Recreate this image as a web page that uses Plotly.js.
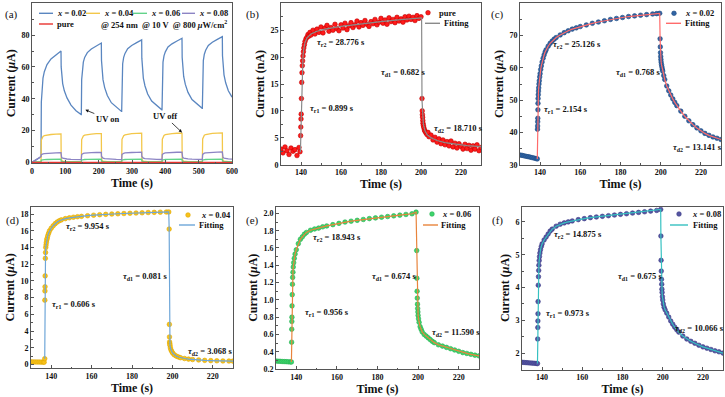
<!DOCTYPE html>
<html><head><meta charset="utf-8">
<script src="https://cdn.plot.ly/plotly-3.0.1.min.js"></script>
<style>html,body{margin:0;padding:0;background:#fff}#c{width:725px;height:397px}</style>
</head><body><div id="c"></div>
<script>
// ---------- (a) cycling I-t curves ----------
const tA = [0,10,20,26.5,
 27,28,30,33,37,45,57,72,87,87.5,89,92,97,105,117,132,147.5,
 148,149,151,154,158,166,178,193,208,208.5,210,213,218,226,238,253,268.5,
 269,270,272,275,279,287,299,314,329,329.5,331,334,339,347,359,374,389.5,
 390,391,393,396,400,408,420,435,450,450.5,452,455,460,468,480,495,510.5,
 511,512,514,517,521,529,541,556,571,571.5,573,576,581,589,600];
const a002 = [0,1.3,2.6,3.4,
 3.5,38,47,53,57,61.5,65,67.8,70,60,54,49.5,45,40.5,36,32.5,30,
 30,52,59,63,66,69,71.3,73.3,75,64,57,52,47,42,37.5,34.5,32,
 32,55,62,66,68.5,71.5,73.5,75.3,77,65.5,58.5,53,48,43,38.5,35.5,33,
 33,56,63,67,69.5,72.5,74.5,76.3,78,66,59,54,49,44,39.5,36.5,34,
 34,57,64,68,70.5,73.5,75.5,77.3,79,67,60,55,50,45,41];
const a004 = [0.3,0.3,0.3,0.3,
 0.3,14,15.5,16.3,16.8,17.2,17.5,17.7,17.9,3,1.2,0.8,0.6,0.5,0.45,0.4,0.4,
 0.4,14.3,15.8,16.6,17.1,17.5,17.8,18.0,18.1,3,1.2,0.8,0.6,0.5,0.45,0.4,0.4,
 0.4,14.5,16.0,16.8,17.3,17.7,18.0,18.2,18.3,3,1.2,0.8,0.6,0.5,0.45,0.4,0.4,
 0.4,14.6,16.1,16.9,17.4,17.8,18.1,18.3,18.4,3,1.2,0.8,0.6,0.5,0.45,0.4,0.4,
 0.4,14.7,16.2,17.0,17.5,17.9,18.2,18.4,18.5,3,1.2,0.8,0.6,0.5,0.45];
const a006 = [0.28,0.28,0.28,0.28,
 0.28,1.45,1.6,1.68,1.74,1.8,1.86,1.92,1.97,0.75,0.58,0.5,0.44,0.4,0.36,0.33,0.31,
 0.31,1.5,1.65,1.72,1.78,1.84,1.9,1.95,2.0,0.75,0.58,0.5,0.44,0.4,0.36,0.33,0.31,
 0.31,1.5,1.65,1.72,1.78,1.84,1.9,1.95,2.01,0.75,0.58,0.5,0.44,0.4,0.36,0.33,0.31,
 0.31,1.5,1.65,1.72,1.78,1.84,1.9,1.95,2.02,0.75,0.58,0.5,0.44,0.4,0.36,0.33,0.31,
 0.31,1.5,1.65,1.72,1.78,1.84,1.9,1.95,2.03,0.75,0.58,0.5,0.44,0.4,0.37];
const a008 = [0,1.4,2.8,3.6,
 3.7,4.8,5.1,5.3,5.5,5.7,5.85,6.0,6.1,3.6,3.0,2.6,2.3,2.1,1.9,1.8,1.7,
 1.7,4.9,5.3,5.6,5.8,6.0,6.1,6.2,6.3,3.7,3.1,2.7,2.4,2.2,2.0,1.85,1.75,
 1.75,5.0,5.4,5.7,5.9,6.1,6.2,6.3,6.4,3.7,3.1,2.7,2.4,2.2,2.0,1.9,1.8,
 1.8,5.0,5.4,5.7,5.9,6.1,6.25,6.35,6.45,3.7,3.1,2.7,2.4,2.2,2.0,1.9,1.8,
 1.8,5.0,5.45,5.75,5.95,6.15,6.3,6.4,6.5,3.7,3.1,2.7,2.4,2.2,2.05];
const aPure = [0.003,0.003,0.003,0.003,
 0.003,0.02,0.024,0.025,0.025,0.026,0.026,0.027,0.027,0.008,0.006,0.005,0.004,0.004,0.0035,0.003,0.003,
 0.003,0.02,0.024,0.025,0.025,0.026,0.026,0.027,0.027,0.008,0.006,0.005,0.004,0.004,0.0035,0.003,0.003,
 0.003,0.02,0.024,0.025,0.025,0.026,0.026,0.027,0.027,0.008,0.006,0.005,0.004,0.004,0.0035,0.003,0.003,
 0.003,0.02,0.024,0.025,0.025,0.026,0.026,0.027,0.027,0.008,0.006,0.005,0.004,0.004,0.0035,0.003,0.003,
 0.003,0.02,0.024,0.025,0.025,0.026,0.026,0.027,0.027,0.008,0.006,0.005,0.004,0.004,0.0035];

// ---------- (b) pure, nA ----------
const tB = [130,131,132,133,134,135,136,137,138,139,139.5,
 139.8,139.9,140,140.1,140.2,140.35,140.5,140.65,140.8,141,141.2,141.4,141.7,142,142.5,143,143.5,144,144.5,
 145,146,147,148,149,150,151,152,153,154,155,156,157,158,159,160,161,162,163,164,165,166,167,168,169,170,
 171,172,173,174,175,176,177,178,179,180,181,182,183,184,185,186,187,188,189,190,191,192,193,194,195,196,197,198,199,200,
 200.5,200.6,200.7,200.8,200.9,201,201.2,201.4,201.7,202,202.5,203,203.5,204,205,206,207,208,209,210,
 211,212,213,214,215,216,217,218,219,220,221,222,223,224,225,226,227,228,229,230];
const iB = [2.9,2.2,3.3,2.6,1.9,3.1,2.5,2.8,1.7,3.2,2.4,
 5.4,7.0,8.5,9.4,12.3,15.3,17.1,18.4,19.3,20.2,21.0,21.7,22.3,22.9,23.4,23.7,24.2,23.9,24.6,
 24.1,25.0,24.3,25.2,24.6,25.6,24.5,25.4,25.9,24.8,25.5,25.0,26.1,25.3,24.9,26.0,25.4,26.3,25.1,25.8,26.4,25.5,26.0,26.7,25.6,26.4,
 25.9,26.8,26.1,25.7,26.6,26.2,27.0,26.0,26.5,27.2,26.3,26.9,26.1,27.3,26.6,27.0,26.4,27.4,26.7,27.1,26.5,27.5,26.9,27.6,27.0,27.4,26.8,27.7,27.2,27.5,
 12.3,10.0,9.3,8.8,8.2,7.7,7.3,6.9,6.5,6.2,5.9,5.6,6.0,5.2,5.5,4.6,5.1,4.2,4.8,3.9,
 4.6,3.7,4.3,3.5,4.4,3.3,4.0,3.1,3.9,3.4,2.9,3.8,3.0,3.6,2.7,3.5,2.9,3.7,2.6,3.2];
const tBfit = [139.7,140,140.3,140.6,141,141.5,142,143,145,148,152,160,170,180,190,200.3,200.5,200.8,201.2,202,203,205,208,212,217,223,230];
const iBfit = [2.3,8.0,13.5,17.5,20.3,21.8,22.7,23.6,24.3,24.8,25.2,25.7,26.2,26.6,26.95,27.3,12,9,7.5,6.3,5.6,5.0,4.5,4.1,3.8,3.55,3.35];

// ---------- (c) x = 0.02 ----------
const tC = [130,131,132,133,134,135,136,137,138,138.6,
 138.7,138.75,138.8,138.85,138.9,138.95,139,139.1,139.2,139.3,139.45,139.6,139.8,140,140.3,140.6,141,141.5,142,142.5,143,
 144,145,146,147,148,150,152,154,156,158,160,163,166,169,172,175,178,181,184,187,190,193,196,198,199.5,
 199.7,199.8,199.9,200,200.1,200.2,200.4,200.6,200.8,201,201.5,202,203,204,205,206,207,208,210,212,214,216,218,220,222,224,226,228,230];
const iC = [33.0,32.9,32.75,32.6,32.5,32.35,32.2,32.05,31.9,31.8,
 41.0,42.0,43.3,44.4,47.0,49.0,50.5,51.7,52.8,53.8,55.0,56.0,57.2,58.2,59.5,60.6,61.8,63.0,64.0,64.9,65.6,
 66.7,67.6,68.3,68.9,69.4,70.2,70.9,71.5,72.0,72.4,72.8,73.3,73.8,74.2,74.6,75.0,75.3,75.6,75.9,76.1,76.3,76.5,76.7,76.8,76.9,
 69.0,66.5,64.7,63.5,62.6,61.8,61.0,60.3,59.6,59.0,57.6,56.4,54.4,52.9,51.6,50.4,49.3,48.3,46.6,45.0,43.6,42.4,41.4,40.5,39.7,39.1,38.6,38.2,37.8];

// ---------- (d) x = 0.04 ----------
const tD = [130,131,132,133,134,135,136,136.5,136.8,
 136.85,136.9,136.95,137,137.1,137.2,137.3,137.45,137.6,137.8,138,138.3,138.7,139.2,140,141,142,143,144,145,147,149,151,153,155,158,161,164,167,170,173,176,179,182,185,188,191,194,197,198.2,
 198.4,198.5,198.55,198.6,198.7,198.8,199,199.3,199.7,200.2,201,202,203,204,206,208,210,213,216,219,222,225,228,230];
const iD = [0.32,0.31,0.31,0.3,0.3,0.29,0.29,0.28,0.7,
 7.7,8.8,9.3,10.6,12.7,13.4,14.0,14.3,14.6,14.9,15.1,15.4,15.7,16.0,16.3,16.6,16.85,17.05,17.2,17.3,17.45,17.55,17.62,17.68,17.72,17.8,17.86,17.92,17.96,18.0,18.03,18.06,18.09,18.12,18.15,18.18,18.2,18.22,18.24,18.25,
 16.2,4.8,3.3,2.7,2.5,2.3,2.0,1.75,1.55,1.35,1.15,1.0,0.9,0.82,0.72,0.65,0.6,0.55,0.5,0.47,0.45,0.43,0.42,0.41];

// ---------- (e) x = 0.06 ----------
const tE = [130,131,132,133,134,135,136,137,137.6,
 137.7,137.75,137.8,137.85,137.9,138,138.1,138.2,138.35,138.5,138.7,139,139.4,140,141,142,143,144,145,147,149,151,153,155,158,161,164,167,170,173,176,179,182,185,188,191,194,197,199,
 199.3,199.4,199.5,199.6,199.7,199.8,199.9,200,200.2,200.5,201,201.5,202,203,204,205,206,207,208,210,212,214,216,218,220,222,224,226,228,230];
const iE = [0.292,0.29,0.289,0.287,0.286,0.285,0.283,0.282,0.281,
 0.51,0.66,0.75,0.8,0.93,1.06,1.18,1.26,1.32,1.38,1.43,1.48,1.53,1.58,1.65,1.70,1.73,1.76,1.78,1.805,1.82,1.83,1.845,1.855,1.87,1.885,1.9,1.91,1.92,1.93,1.94,1.948,1.956,1.964,1.972,1.98,1.988,1.996,2.015,
 1.57,1.25,1.10,1.02,0.95,0.9,0.86,0.82,0.78,0.74,0.69,0.66,0.63,0.6,0.58,0.56,0.54,0.52,0.505,0.48,0.465,0.45,0.435,0.42,0.405,0.39,0.38,0.37,0.36,0.352];

// ---------- (f) x = 0.08 ----------
const tF = [130,131,132,133,134,135,136,137,137.7,
 137.8,137.85,137.9,137.95,138,138.1,138.2,138.3,138.4,138.55,138.7,138.9,139.2,139.6,140,141,142,143,144,145,147,149,151,153,155,158,161,164,167,170,173,176,179,182,185,188,191,194,197,199,
 199.1,199.2,199.3,199.4,199.5,199.6,199.7,199.85,200,200.3,200.7,201.2,202,203,204,205,206,207,208,210,212,214,216,218,220,222,224,226,228,230];
const iF = [1.72,1.715,1.71,1.705,1.70,1.695,1.69,1.685,1.68,
 2.43,2.78,2.98,3.2,3.57,4.07,4.33,4.52,4.68,4.82,4.94,5.05,5.15,5.25,5.33,5.45,5.54,5.63,5.72,5.78,5.87,5.93,5.97,6.0,6.03,6.07,6.1,6.13,6.15,6.17,6.19,6.21,6.23,6.25,6.27,6.29,6.31,6.33,6.35,6.38,
 5.57,4.83,4.5,4.25,4.1,3.95,3.85,3.72,3.62,3.5,3.4,3.32,3.22,3.1,2.98,2.88,2.79,2.71,2.64,2.52,2.43,2.36,2.3,2.24,2.19,2.15,2.11,2.07,2.04,2.0];

// fit onsets (s) for panels c-f: the fit curves start at the last dark-state point
const fitStart = {c: 138.6, d: 136.8, e: 137.6, f: 137.7};

// ---------------------------------------------------------------
const FONT = 'Liberation Serif, Times New Roman, serif';
const W = 725, H = 397;
const PX = p => p / W, PY = p => 1 - p / H;

function from(t, v, t0) {
  const x = [], y = [];
  t.forEach((tt, i) => { if (tt >= t0) { x.push(tt); y.push(v[i]); } });
  return {x, y};
}

const traces = [];
function line(x, y, color, name, xa, ya, w) {
  traces.push({type: 'scatter', mode: 'lines', x, y, name, xaxis: xa, yaxis: ya,
    line: {color, width: w || 1.3}, showlegend: false, hoverinfo: 'skip'});
}
function dots(x, y, color, edge, name, xa, ya) {
  traces.push({type: 'scatter', mode: 'markers', x, y, name, xaxis: xa, yaxis: ya,
    marker: {color, size: 4.6, line: {color: edge, width: 0.6}}, showlegend: false, hoverinfo: 'skip'});
}

// (a)
line(tA, a002, '#5a86c0', 'x = 0.02', 'x', 'y');
line(tA, a004, '#f3c74a', 'x = 0.04', 'x', 'y');
line(tA, a006, '#62d38a', 'x = 0.06', 'x', 'y');
line(tA, a008, '#8c84c4', 'x = 0.08', 'x', 'y');
line(tA, aPure, '#e8332e', 'pure', 'x', 'y');
// (b)
dots(tB, iB, '#ff1a1a', '#c00000', 'pure', 'x2', 'y2');
line(tBfit, iBfit, '#8a8a8a', 'Fitting', 'x2', 'y2', 1.2);
// (c)
dots(tC, iC, '#3064a4', '#1e4a82', 'x = 0.02', 'x3', 'y3');
let f = from(tC, iC, fitStart.c); line(f.x, f.y, '#ff6b6b', 'Fitting', 'x3', 'y3', 1.2);
// (d)
dots(tD, iD, '#f7c21c', '#e0a800', 'x = 0.04', 'x4', 'y4');
f = from(tD, iD, fitStart.d); line(f.x, f.y, '#6ea6d8', 'Fitting', 'x4', 'y4', 1.2);
// (e)
dots(tE, iE, '#3fd46c', '#22b04f', 'x = 0.06', 'x5', 'y5');
f = from(tE, iE, fitStart.e); line(f.x, f.y, '#e8843c', 'Fitting', 'x5', 'y5', 1.2);
// (f)
dots(tF, iF, '#5656a2', '#3a3a86', 'x = 0.08', 'x6', 'y6');
f = from(tF, iF, fitStart.f); line(f.x, f.y, '#35c1c1', 'Fitting', 'x6', 'y6', 1.2);

function axis(domain, range, dtick, minor, anchor, title, fmt) {
  return {domain, range, anchor, dtick, tick0: 0, tickformat: fmt || '',
    showgrid: false, zeroline: false, showline: true, mirror: true,
    linecolor: '#555', linewidth: 1, ticks: 'inside', ticklen: 3, tickwidth: 1, tickcolor: '#555',
    minor: {dtick: minor, ticks: 'inside', ticklen: 1.5, tickwidth: 1, tickcolor: '#555', showgrid: false},
    tickfont: {family: FONT, size: 8, weight: 'bold', color: '#111'},
    title: {text: title, standoff: 3, font: {family: FONT, size: 12, weight: 'bold', color: '#111'}},
    automargin: false, fixedrange: true};
}
const CUR = 'Current (<i>μ</i>A)';
const layout = {
  width: W, height: H, margin: {l: 0, r: 0, t: 0, b: 0},
  paper_bgcolor: '#fff', plot_bgcolor: '#fff', showlegend: false,
  font: {family: FONT, color: '#111'},
  xaxis:  axis([PX(32), PX(232)], [0, 600], 100, 50, 'y', 'Time (s)'),
  yaxis:  axis([PY(163.3), PY(3.3)], [-0.6, 100], 20, 10, 'x', CUR),
  xaxis2: axis([PX(281), PX(481)], [130, 230], 20, 10, 'y2', 'Time (s)'),
  yaxis2: axis([PY(164.7), PY(3.3)], [0, 30], 5, 2.5, 'x2', 'Current (nA)'),
  xaxis3: axis([PX(520), PX(721)], [130, 230], 20, 10, 'y3', 'Time (s)'),
  yaxis3: axis([PY(164.7), PY(3.3)], [30, 80], 10, 5, 'x3', CUR),
  xaxis4: axis([PX(31), PX(233)], [130, 230], 20, 10, 'y4', 'Time (s)'),
  yaxis4: axis([PY(368.3), PY(206.5)], [-0.45, 18.9], 2, 1, 'x4', CUR),
  xaxis5: axis([PX(276), PX(479)], [130, 230], 20, 10, 'y5', 'Time (s)'),
  yaxis5: axis([PY(369), PY(206.5)], [0.2, 2.08], 0.2, 0.1, 'x5', CUR, '.1f'),
  xaxis6: axis([PX(522), PX(723)], [130, 230], 20, 10, 'y6', 'Time (s)'),
  yaxis6: axis([PY(369.5), PY(206.5)], [1.5, 6.47], 1, 0.5, 'x6', CUR),
  shapes: [], annotations: []
};

const TXT = {family: FONT, size: 8.5, weight: 'bold', color: '#111'};
function text(px, py, s, opts) {
  layout.annotations.push(Object.assign({xref: 'paper', yref: 'paper', x: PX(px), y: PY(py), text: s,
    showarrow: false, xanchor: 'left', yanchor: 'middle', font: TXT}, opts || {}));
}
function legLine(x0, x1, py, color, label, tx) {
  layout.shapes.push({type: 'line', xref: 'paper', yref: 'paper', x0: PX(x0), x1: PX(x1), y0: PY(py), y1: PY(py),
    line: {color, width: 1.4}});
  text(tx, py, label);
}
function legDot(cx, cy, color, edge, label, tx) {
  layout.shapes.push({type: 'circle', xref: 'paper', yref: 'paper', xsizemode: 'pixel', ysizemode: 'pixel',
    xanchor: PX(cx), yanchor: PY(cy), x0: -2.3, x1: 2.3, y0: -2.3, y1: 2.3,
    fillcolor: color, line: {color: edge, width: 0.6}});
  text(tx, cy, label);
}
// legends
legLine(39, 53, 13.3, '#5a86c0', '<i>x</i> = 0.02', 55);
legLine(86, 100, 13.3, '#f3c74a', '<i>x</i> = 0.04', 102);
legLine(133, 147, 13.3, '#62d38a', '<i>x</i> = 0.06', 149);
legLine(182, 195, 13.3, '#8c84c4', '<i>x</i> = 0.08', 197);
legLine(39, 53, 24, '#e8332e', 'pure', 55);
text(99, 24, '@ 254 nm\u00a0 @ 10 V\u00a0 @ 800 <i>μ</i>W/cm<sup>2</sup>');
legDot(428, 12.7, '#ff1a1a', '#c00000', 'pure', 437);
legLine(425, 440, 23.3, '#8a8a8a', 'Fitting', 442);
legDot(674, 13.3, '#3064a4', '#1e4a82', '<i>x</i> = 0.02', 683);
legLine(666, 681, 23.3, '#ff6b6b', 'Fitting', 683);
legDot(188, 215, '#f7c21c', '#e0a800', '<i>x</i> = 0.04', 199);
legLine(179, 195, 225, '#6ea6d8', 'Fitting', 197);
legDot(432, 214, '#3fd46c', '#22b04f', '<i>x</i> = 0.06', 440);
legLine(423, 438, 225, '#e8843c', 'Fitting', 439);
legDot(679, 214, '#5656a2', '#3a3a86', '<i>x</i> = 0.08', 690);
legLine(670, 688, 225, '#35c1c1', 'Fitting', 691);

// panel labels
const LAB = {family: FONT, size: 11, color: '#111'};
[['(a)', 11.5, 15], ['(b)', 252.5, 15], ['(c)', 497.5, 15], ['(d)', 12, 220], ['(e)', 252.5, 220], ['(f)', 498, 220]]
  .forEach(([s, x, y]) => text(x, y, s, {xanchor: 'center', font: LAB}));

// time constants
function tau(xa, ya, x, y, s) {
  layout.annotations.push({xref: xa, yref: ya, x, y, text: s, showarrow: false,
    xanchor: 'left', yanchor: 'middle', font: TXT});
}
const T = (k, v) => '<i>τ</i><sub>' + k + '</sub> = ' + v + ' s';
tau('x2', 'y2', 147.0, 22.65, T('r2', '28.776'));
tau('x2', 'y2', 179.2, 17.2, T('d1', '0.682'));
tau('x2', 'y2', 143.7, 10.4, T('r1', '0.899'));
tau('x2', 'y2', 205.3, 6.66, T('d2', '18.710'));
tau('x3', 'y3', 145.3, 67.3, T('r2', '25.126'));
tau('x3', 'y3', 177.0, 58.5, T('d1', '0.768'));
tau('x3', 'y3', 140.8, 47.2, T('r1', '2.154'));
tau('x3', 'y3', 205.0, 35.3, T('d2', '13.141'));
tau('x4', 'y4', 146.2, 16.5, T('r2', '9.954'));
tau('x4', 'y4', 174.5, 10.5, T('d1', '0.081'));
tau('x4', 'y4', 139.5, 7.24, T('r1', '0.606'));
tau('x4', 'y4', 206.7, 1.52, T('d2', '3.068'));
tau('x5', 'y5', 147.4, 1.725, T('r2', '18.943'));
tau('x5', 'y5', 176.1, 1.27, T('d1', '0.674'));
tau('x5', 'y5', 143.3, 0.85, T('r1', '0.956'));
tau('x5', 'y5', 206.0, 0.62, T('d2', '11.590'));
tau('x6', 'y6', 145.1, 5.61, T('r2', '14.875'));
tau('x6', 'y6', 177.0, 4.34, T('d1', '0.675'));
tau('x6', 'y6', 140.7, 3.21, T('r1', '0.973'));
tau('x6', 'y6', 205.3, 2.76, T('d2', '10.066'));

// UV on / off arrows in (a)
layout.annotations.push({xref: 'x', yref: 'y', x: 160, y: 33, text: 'UV on', showarrow: true,
  ax: 22, ay: 9, arrowhead: 2, arrowsize: 0.8, arrowwidth: 0.8, arrowcolor: '#111', font: TXT});
layout.annotations.push({xref: 'x', yref: 'y', x: 450, y: 18.8, text: 'UV off', showarrow: true,
  ax: -17, ay: -16, arrowhead: 2, arrowsize: 0.8, arrowwidth: 0.8, arrowcolor: '#111', font: TXT});

Plotly.newPlot('c', traces, layout, {displayModeBar: false, staticPlot: true});
</script></body></html>
